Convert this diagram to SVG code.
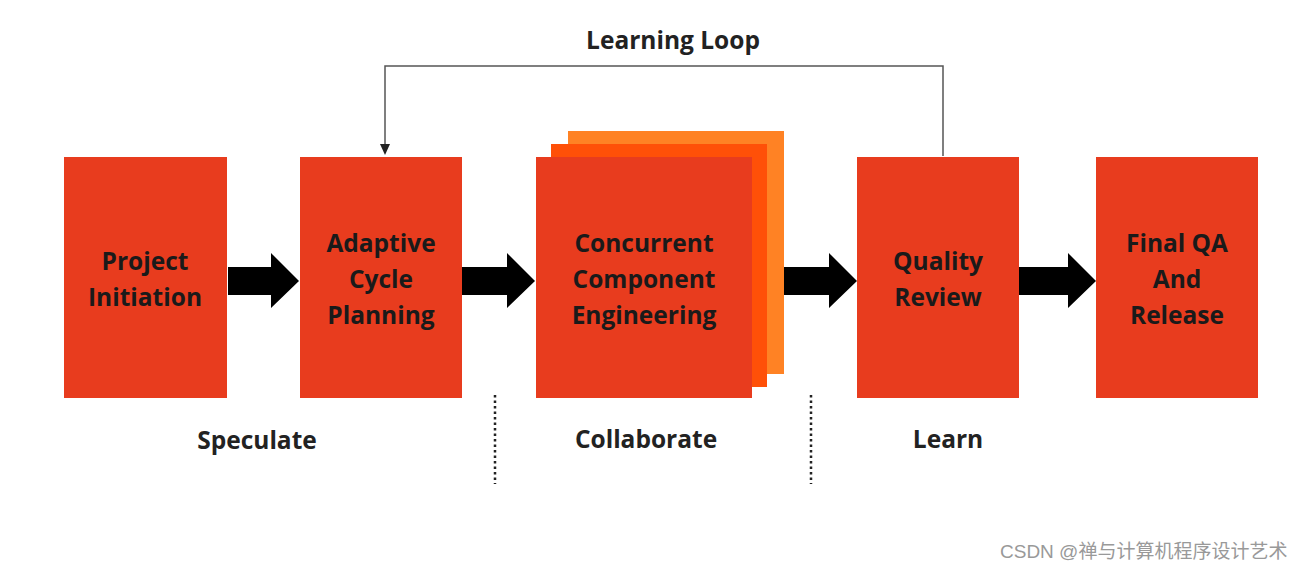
<svg xmlns="http://www.w3.org/2000/svg" width="1306" height="570" viewBox="0 0 1306 570">
<style>
.box{fill:#E83C1E}
.t{font-family:"Open Sans","Liberation Sans",sans-serif;font-weight:bold;font-size:24.5px;fill:#1a1a1a;text-anchor:middle}
.lbl{font-family:"Open Sans","Liberation Sans",sans-serif;font-weight:bold;font-size:24.5px;fill:#222;text-anchor:middle}
.big{fill:#000}
.dot{stroke:#222;stroke-width:2.5;stroke-dasharray:2.5 3}
.wm{font-family:"Liberation Sans","Noto Sans CJK SC",sans-serif;font-size:19px;fill:#999}
</style>
<rect width="1306" height="570" fill="#fff"/>
<g id="connectors">
<polygon class="big" points="228,267 271,267 271,253 299,281 271,308 271,295 228,295"/>
<polygon class="big" points="462,267 507,267 507,253 535,281 507,308 507,295 462,295"/>
<polygon class="big" points="784,267 829,267 829,253 857,281 829,308 829,295 784,295"/>
<polygon class="big" points="1019,267 1068,267 1068,253 1096,281 1068,308 1068,295 1019,295"/>
<polyline points="943,156 943,66 385,66 385,145" fill="none" stroke="#555" stroke-width="1.5"/>
<polygon points="380,144 390,144 385,155" fill="#222"/>
<text class="lbl" x="673" y="49">Learning Loop</text>
</g>
<g id="n1">
<rect class="box" x="64" y="157" width="163" height="241"/>
<text class="t" x="145" y="270">Project</text>
<text class="t" x="145" y="306">Initiation</text>
</g>
<g id="n2">
<rect class="box" x="300" y="157" width="162" height="241"/>
<text class="t" x="381" y="252">Adaptive</text>
<text class="t" x="381" y="288">Cycle</text>
<text class="t" x="381" y="324">Planning</text>
</g>
<g id="n3">
<rect x="568" y="131" width="216" height="243" fill="#FF8224"/>
<rect x="551" y="144" width="216" height="243" fill="#FF5008"/>
<rect class="box" x="536" y="157" width="216" height="241"/>
<text class="t" x="644" y="252">Concurrent</text>
<text class="t" x="644" y="288">Component</text>
<text class="t" x="644" y="324">Engineering</text>
</g>
<g id="n4">
<rect class="box" x="857" y="157" width="162" height="241"/>
<text class="t" x="938" y="270">Quality</text>
<text class="t" x="938" y="306">Review</text>
</g>
<g id="n5">
<rect class="box" x="1096" y="157" width="162" height="241"/>
<text class="t" x="1177" y="252">Final QA</text>
<text class="t" x="1177" y="288">And</text>
<text class="t" x="1177" y="324">Release</text>
</g>
<g id="phases">
<line class="dot" x1="495" y1="395" x2="495" y2="484"/>
<line class="dot" x1="811" y1="395" x2="811" y2="484"/>
<text class="lbl" x="257" y="449">Speculate</text>
<text class="lbl" x="646" y="448">Collaborate</text>
<text class="lbl" x="948" y="448">Learn</text>
</g>
<text class="wm" x="1000" y="558">CSDN @禅与计算机程序设计艺术</text>
</svg>
